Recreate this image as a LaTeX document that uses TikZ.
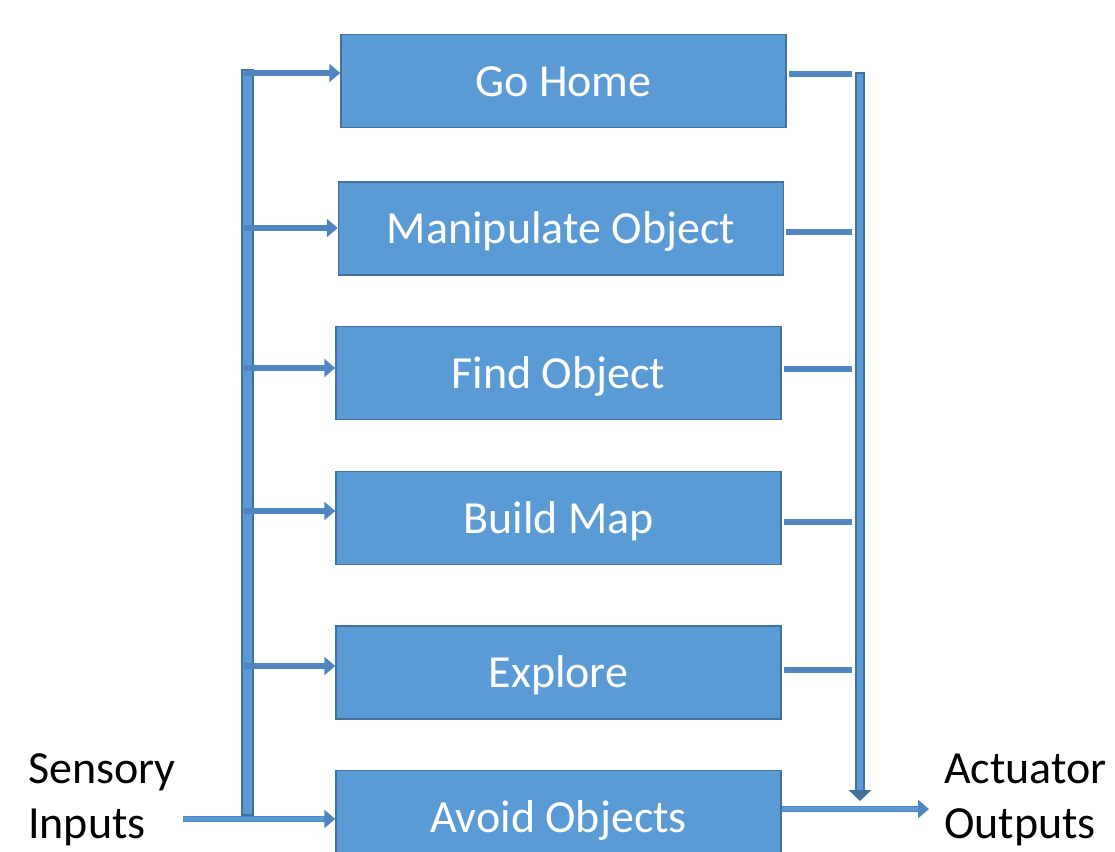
\documentclass[tikz,border=0pt]{standalone}
\usepackage{fontspec}
\setmainfont{Carlito}
\usetikzlibrary{arrows.meta}
\definecolor{boxfill}{HTML}{5B9BD5}
\definecolor{boxline}{HTML}{41719C}
\definecolor{arrowc}{HTML}{4F86C1}
\tikzset{
  blk/.style={draw=boxline, line width=1.5pt, fill=boxfill, text=white,
    minimum width=445pt, minimum height=93pt, inner sep=0pt,
    font=\fontsize{46}{50}\selectfont, text height=30pt, text depth=0pt},
  lbl/.style={anchor=base west, inner sep=0pt, font=\fontsize{46}{50}\selectfont},
  inarrow/.style={draw=arrowc, line width=6pt, -{Triangle[width=18pt,length=11pt]}},
  incore/.style={draw=boxfill, line width=3.5pt, shorten >=11pt},
  outline/.style={draw=arrowc, line width=5.5pt},
  bar/.style={draw=boxline, line width=1.5pt, fill=boxfill},
}
\begin{document}
\begin{tikzpicture}[x=1pt,y=-1pt]
\useasboundingbox (0,0) rectangle (1115,851);
\clip (0,0) rectangle (1115,851);
% boxes
\node[blk] (home)  at (563.5,81)   {Go Home};
\node[blk] (manip) at (561,228.5)  {Manipulate Object};
\node[blk] (find)  at (558.5,373)  {Find Object};
\node[blk] (build) at (558.5,518)  {Build Map};
\node[blk] (expl)  at (558.5,672.5){Explore};
\node[blk] (avoid) at (558.5,817)  {Avoid Objects};
% labels
\node[lbl] (sens1) at (28,783) {Sensory};
\node[lbl] (sens2) at (28,838) {Inputs};
\node[lbl] (act1) at (944,783) {Actuator};
\node[lbl] (act2) at (944,838) {Outputs};
% input bus
\coordinate (inbusTop) at (242,70);
\coordinate (inbusBot) at (253,815);
\draw[bar] (inbusTop) rectangle (inbusBot);
\coordinate (inStart) at (183,819);
\draw[inarrow] (inStart) -- (avoid.west |- inStart);
\draw[incore] (inStart) ++(1,0) -- (avoid.west |- inStart);
\foreach \n/\y in {home/73, manip/228, find/368, build/511, expl/666}{
  \coordinate (s\n) at (244,\y);
  \draw[inarrow] (s\n) -- (\n.west |- s\n);
}
% output bus
\coordinate (obTop) at (860,72);
\coordinate (obBot) at (860,801);
\draw[draw=boxline, line width=10pt, -{Triangle[width=22pt,length=11pt]}] (obTop) -- (obBot);
\draw[draw=boxfill, line width=6pt, shorten >=11pt] (obTop) ++(0,1.5) -- (obBot);
\foreach \n/\y in {home/74, manip/232, find/369, build/522, expl/670}{
  \coordinate (e\n) at (852,\y);
  \draw[outline] (\n.east |- e\n) ++(2,0) -- (e\n);
}
\coordinate (outEnd) at (929,809);
\draw[inarrow] (avoid.east |- outEnd) -- (outEnd);
\draw[incore] (avoid.east |- outEnd) -- (outEnd);
\end{tikzpicture}
\end{document}
